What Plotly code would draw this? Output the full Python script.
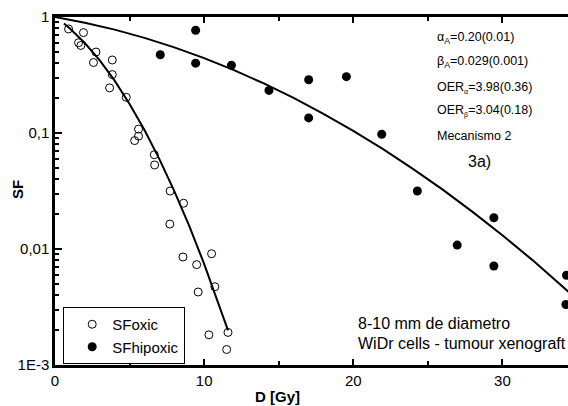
import plotly.graph_objects as go

# Oxic data (open circles)
oxic_dose = [0.91, 1.91, 1.58, 1.73, 2.75, 2.58, 3.84, 3.84, 3.66, 4.78, 5.60, 5.60, 5.34,
             6.66, 6.68, 7.72, 8.62, 7.70, 8.58, 10.50, 9.50, 9.60, 10.72, 10.32, 11.60, 11.51]
oxic_sf = [0.789, 0.734, 0.600, 0.568, 0.499, 0.405, 0.426, 0.319, 0.245, 0.203, 0.108, 0.094, 0.086,
           0.065, 0.053, 0.0316, 0.0248, 0.0164, 0.00853, 0.0091, 0.00733, 0.00426, 0.00473, 0.00182,
           0.00191, 0.00136]

# Hypoxic data (filled circles)
hyp_dose = [7.06, 9.43, 9.43, 11.83, 14.35, 17.01, 17.01, 19.54, 21.91, 24.30, 26.97, 29.43, 29.43, 34.30, 34.26]
hyp_sf = [0.473, 0.769, 0.400, 0.384, 0.233, 0.288, 0.135, 0.306, 0.0975, 0.0316, 0.0108, 0.0186,
          0.00714, 0.00594, 0.00332]

# Fitted curves
oxic_fit_dose = [0.6, 1, 2, 3, 4, 5, 6, 7, 8, 9, 10, 11, 11.6]
oxic_fit_sf = [0.878, 0.795, 0.597, 0.423, 0.283, 0.178, 0.106, 0.0595, 0.0316, 0.0158, 0.00745, 0.00332, 0.00199]
hyp_fit_dose = [0, 2, 4, 6, 8, 10, 12, 14, 16, 18, 20, 22, 24, 26, 28, 30, 32, 34, 35]
hyp_fit_sf = [1.0, 0.893, 0.778, 0.661, 0.547, 0.442, 0.348, 0.2675, 0.2005, 0.1464, 0.1043, 0.0725,
              0.0491, 0.0325, 0.0209, 0.01314, 0.00806, 0.00482, 0.00369]

y_tickvals = [1, 0.1, 0.01, 0.001]
y_ticktext = ["1", "0,1", "0,01", "1E-3"]
x_tickvals = [0, 10, 20, 30]

FONT = "Liberation Sans, Arial, sans-serif"

fig = go.Figure()
fig.add_trace(go.Scatter(x=oxic_fit_dose, y=oxic_fit_sf, mode="lines",
                         line=dict(color="black", width=2), showlegend=False, hoverinfo="skip"))
fig.add_trace(go.Scatter(x=hyp_fit_dose, y=hyp_fit_sf, mode="lines",
                         line=dict(color="black", width=2), showlegend=False, hoverinfo="skip"))
fig.add_trace(go.Scatter(x=oxic_dose, y=oxic_sf, mode="markers", name="SFoxic",
                         marker=dict(symbol="circle-open", size=8, color="black", line=dict(width=1))))
fig.add_trace(go.Scatter(x=hyp_dose, y=hyp_sf, mode="markers", name="SFhipoxic",
                         marker=dict(symbol="circle", size=9, color="black")))

fig.update_layout(
    width=568, height=406,
    margin=dict(l=55, r=0, t=17, b=41),
    paper_bgcolor="white", plot_bgcolor="white",
    font=dict(family=FONT, size=15, color="black"),
    legend=dict(x=0.016, y=0.1667, xanchor="left", yanchor="top",
                bordercolor="black", borderwidth=1, bgcolor="white",
                font=dict(size=15), tracegroupgap=0, indentation=8),
    xaxis=dict(range=[0, 34.4], showline=True, linecolor="black", linewidth=2.5,
               mirror="allticks", ticks="inside", ticklen=6, tickwidth=2, tickcolor="black",
               tickvals=x_tickvals, ticktext=[str(v) for v in x_tickvals],
               showgrid=False, zeroline=False, automargin=False,
               minor=dict(dtick=5, ticks="inside", ticklen=4, tickwidth=2, tickcolor="black", showgrid=False)),
    yaxis=dict(type="log", range=[-3, 0], showline=True, linecolor="black", linewidth=2.5,
               ticks="inside", ticklen=7, tickwidth=2, tickcolor="black",
               tickvals=y_tickvals, ticktext=y_ticktext, showgrid=False, zeroline=False, automargin=False,
               minor=dict(dtick="D1", ticks="inside", ticklen=4, tickwidth=1.5, tickcolor="black", showgrid=False)),
)

# helpers: pixel -> paper coords (plot area spans x 55..568, y 17..365)
def px_x(p):
    return (p - 55) / 513.0

def px_y(p):
    return (365 - p) / 348.0

small = dict(family=FONT, size=12.5, color="black")
mid = dict(family=FONT, size=16, color="black")
ann_style = dict(xref="paper", yref="paper", showarrow=False, xanchor="left", yanchor="middle")
lines = [
    ("α<sub>A</sub>=0.20(0.01)", 38),
    ("β<sub>A</sub>=0.029(0.001)", 62),
    ("OER<sub><span style='font-size:7px'>α</span></sub>=3.98(0.36)", 88),
    ("OER<sub><span style='font-size:7px'>β</span></sub>=3.04(0.18)", 111),
    ("Mecanismo 2", 136),
]
for txt, py in lines:
    fig.add_annotation(text=txt, x=px_x(435), y=px_y(py), font=small, **ann_style)
fig.add_annotation(text="3a)", x=px_x(466), y=px_y(161), font=dict(family=FONT, size=16, color="black"),
                   **ann_style)
fig.add_annotation(text="8-10 mm de diametro", x=px_x(356), y=px_y(323), font=mid, **ann_style)
fig.add_annotation(text="WiDr cells - tumour xenograft", x=px_x(356), y=px_y(343), font=mid, **ann_style)
fig.add_annotation(text="<b>D [Gy]</b>", x=px_x(277), y=px_y(396), xref="paper", yref="paper",
                   showarrow=False, xanchor="center", yanchor="middle",
                   font=dict(family=FONT, size=15, color="black"))
fig.add_annotation(text="<b>SF</b>", x=px_x(17), y=px_y(190), xref="paper", yref="paper",
                   showarrow=False, xanchor="center", yanchor="middle", textangle=-90,
                   font=dict(family=FONT, size=15, color="black"))

# remove the default 8px page margin so the 568x406 figure fills the window exactly
fig.write_html("out.html", config={"displayModeBar": False},
               post_script="document.body.style.margin='0';")
